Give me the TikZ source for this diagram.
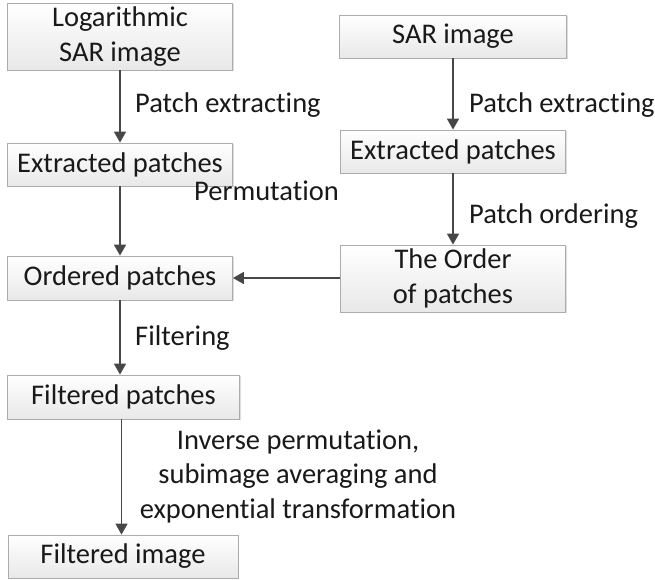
\documentclass[tikz,border=0pt]{standalone}
\usepackage{fontspec}
\setmainfont{Carlito}[Ligatures=CommonOff]
\usetikzlibrary{arrows.meta,shadows}
\begin{document}
\begin{tikzpicture}[x=1pt,y=-1pt,
  box/.style={draw=gray!65, line width=0.8pt, top color=white, bottom color=gray!18,
    drop shadow={shadow xshift=1.2pt, shadow yshift=-1.2pt, fill=gray!45, opacity=0.6},
    align=center, inner sep=0pt, font=\fontsize{28.5}{34.5}\selectfont, text=black!90},
  lbl/.style={font=\fontsize{28.5}{34.5}\selectfont, text=black!90, inner sep=0pt},
  arr/.style={draw=black!72, line width=1.6pt, -{Triangle[length=11pt,width=12pt]}}]
\useasboundingbox (0,0) rectangle (655,579);
\node[box, minimum width=225pt, minimum height=67pt] (log) at (120,36.5) {Logarithmic\\SAR image};
\node[box, minimum width=225pt, minimum height=43pt] (extL) at (120,164.5) {Extracted patches};
\node[box, minimum width=225pt, minimum height=44pt] (ord) at (120,278) {Ordered patches};
\node[box, minimum width=232pt, minimum height=44pt] (fp) at (123.5,397) {Filtered patches};
\node[box, minimum width=230pt, minimum height=43pt] (fi) at (123,556.5) {Filtered image};
\node[box, minimum width=227pt, minimum height=43pt] (sar) at (453,36.5) {SAR image};
\node[box, minimum width=225pt, minimum height=43pt] (extR) at (453,151.5) {Extracted patches};
\node[box, minimum width=225pt, minimum height=67pt] (order) at (453,278.5) {The Order\\of patches};
\draw[arr] (log) -- (extL);
\draw[arr] (extL) -- (ord);
\draw[arr] (ord) -- (ord |- fp.north);
\draw[arr] (fp.south -| ord) ++(1.5,0) coordinate (fps) -- (fps |- fi.north);
\draw[arr] (sar) -- (extR);
\draw[arr] (extR) -- (order);
\draw[arr] (order.west |- ord.east) -- (ord.east);
\node[lbl, anchor=west] (l1) at (135,105) {Patch extracting};
\node[lbl, anchor=west] (l2) at (469,105) {Patch extracting};
\node[lbl, anchor=west] (l3) at (194,191) {Permutation};
\node[lbl, anchor=west] (l4) at (469,216) {Patch ordering};
\node[lbl, anchor=west] (l5) at (135,338) {Filtering};
\node[lbl, align=center] (l6) at (298,476) {Inverse permutation,\\subimage averaging and\\exponential transformation};
\end{tikzpicture}
\end{document}
